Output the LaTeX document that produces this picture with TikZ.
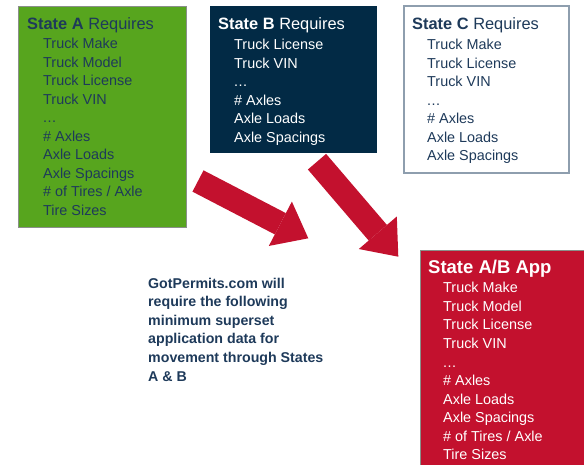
\documentclass[tikz,border=0pt]{standalone}
\usepackage{fontspec}
\setmainfont{Liberation Sans}
\usetikzlibrary{arrows.meta}
\definecolor{agreen}{HTML}{57A51E}
\definecolor{bnavy}{HTML}{022A45}
\definecolor{abred}{HTML}{C3112E}
\definecolor{tnavy}{HTML}{1E3A5A}
\definecolor{cborder}{HTML}{8E9EAE}
\definecolor{gborder}{HTML}{8A8F8A}
\newcommand{\dts}{.\kern0.5pt.\kern0.5pt.}
\tikzset{
  box/.style={rectangle, inner sep=0pt, outer sep=0pt, anchor=north west},
  ttl/.style={anchor=base west, inner sep=0pt, font=\fontsize{16.4}{19}\selectfont},
  itm/.style={anchor=base west, inner sep=0pt, font=\fontsize{14.4}{17}\selectfont},
  bigarrow/.style={abred, line width=24pt, -{Triangle[width=50pt,length=31.5pt,line width=0pt]}},
}
\begin{document}
\begin{tikzpicture}[x=1pt,y=-1pt]
\useasboundingbox (0,0) rectangle (584,465);
% arrows
\coordinate (t1) at (198,181);
\coordinate (h1) at (308.3,238.3);
\coordinate (t2) at (317,161.7);
\coordinate (h2) at (398.3,256.7);
\draw[bigarrow] (t1) -- (h1);
\draw[bigarrow] (t2) -- (h2);
% boxes
\node[box, fill=agreen, draw=gborder, line width=0.8pt, minimum width=168pt, minimum height=221pt] (A) at (18,6) {};
\node[box, fill=bnavy, minimum width=167pt, minimum height=147pt] (B) at (210,6) {};
\node[box, fill=white, draw=cborder, line width=1.2pt, minimum width=165pt, minimum height=167pt] (C) at (404,6) {};
\node[box, fill=abred, minimum width=164pt, minimum height=215pt] (R) at (420,250) {};
\draw[gborder, line width=0.8pt] (R.south west) -- (R.north west) -- (R.north east);
% box A text
\node[ttl, text=tnavy] (At) at (27,30) {\textbf{State A} Requires};
\foreach \t [count=\i] in {Truck Make,Truck Model,Truck License,Truck VIN,\dts,\# Axles,Axle Loads,Axle Spacings,\# of Tires / Axle,Tire Sizes}
  \node[itm, text=tnavy] (Ai\i) at (43,{48.5+18.55*(\i-1)}) {\t};
% box B text
\node[ttl, text=white] (Bt) at (218,30) {\textbf{State B} Requires};
\foreach \t [count=\i] in {Truck License,Truck VIN,\dts,\# Axles,Axle Loads,Axle Spacings}
  \node[itm, text=white] (Bi\i) at (234,{49.5+18.55*(\i-1)}) {\t};
% box C text
\node[ttl, text=tnavy] (Ct) at (412,30) {\textbf{State C} Requires};
\foreach \t [count=\i] in {Truck Make,Truck License,Truck VIN,\dts,\# Axles,Axle Loads,Axle Spacings}
  \node[itm, text=tnavy] (Ci\i) at (427,{49.5+18.55*(\i-1)}) {\t};
% red box text
\node[anchor=base west, inner sep=0pt, text=white, font=\fontsize{18.5}{22}\bfseries] (Rt) at (428,273.5) {State A/B App};
\foreach \t [count=\i] in {Truck Make,Truck Model,Truck License,Truck VIN,\dts,\# Axles,Axle Loads,Axle Spacings,\# of Tires / Axle,Tire Sizes}
  \node[itm, text=white] (Ri\i) at (443,{293+18.5*(\i-1)}) {\t};
% note
\foreach \t [count=\i] in {GotPermits.com will,require the following,minimum superset,application data for,movement through States,A \& B}
  \node[anchor=base west, inner sep=0pt, text=tnavy, font=\fontsize{14.2}{17}\bfseries] (N\i) at (148,{288+18.6*(\i-1)}) {\t};
\end{tikzpicture}
\end{document}
